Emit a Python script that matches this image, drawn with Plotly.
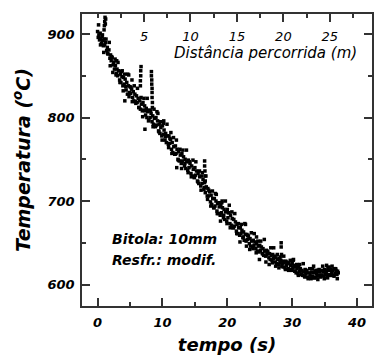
import plotly.graph_objects as go

# ---- data ----
TIME_S = [
    0.0, 0.1, 0.2, 0.3, 0.4, 0.5, 0.6, 0.7, 0.8, 0.9,
    1.0, 1.05, 1.1, 1.15, 1.2, 1.25,
    1.0, 1.1, 1.25, 1.4, 1.5, 1.6, 1.75, 1.9,
    2.0, 2.1, 2.25, 2.4, 2.5, 2.6, 2.75, 2.9, 2.95,
    3.0, 3.1, 3.25, 3.4, 3.5, 3.6, 3.75, 3.9, 3.8,
    4.0, 4.1, 4.25, 4.4, 4.5, 4.6, 4.75, 4.9, 4.2, 4.8,
    5.0, 5.1, 5.25, 5.4, 5.5, 5.6, 5.75, 5.9, 5.3,
    6.0, 6.1, 6.25, 6.4, 6.5, 6.6, 6.75, 6.9,
    6.6, 6.6, 6.65, 6.65, 6.7,
    7.0, 7.1, 7.25, 7.4, 7.5, 7.6, 7.75, 7.9, 7.3,
    8.3, 8.3, 8.35, 8.35, 8.4, 8.4, 8.4, 8.45, 8.45,
    8.0, 8.1, 8.25, 8.4, 8.5, 8.6, 8.75, 8.9,
    9.0, 9.1, 9.25, 9.4, 9.5, 9.6, 9.75, 9.9, 9.3,
    10.0, 10.1, 10.25, 10.4, 10.5, 10.6, 10.75, 10.9, 10.2,
    11.0, 11.1, 11.25, 11.4, 11.5, 11.6, 11.75, 11.9, 11.3,
    12.0, 12.1, 12.25, 12.4, 12.5, 12.6, 12.75, 12.9, 12.2,
    13.0, 13.1, 13.25, 13.4, 13.5, 13.6, 13.75, 13.9,
    14.0, 14.1, 14.25, 14.4, 14.5, 14.6, 14.75, 14.9,
    15.0, 15.1, 15.25, 15.4, 15.5, 15.6, 15.75, 15.9,
    16.5, 16.5, 16.55, 16.55, 16.6,
    16.0, 16.1, 16.25, 16.4, 16.5, 16.6, 16.75, 16.9,
    17.0, 17.1, 17.25, 17.4, 17.5, 17.6, 17.75, 17.9,
    18.0, 18.1, 18.25, 18.4, 18.5, 18.6, 18.75, 18.9, 18.3,
    19.0, 19.1, 19.25, 19.4, 19.5, 19.6, 19.75, 19.9, 19.2,
    20.0, 20.1, 20.25, 20.4, 20.5, 20.6, 20.75, 20.9, 20.3,
    21.0, 21.1, 21.25, 21.4, 21.5, 21.6, 21.75, 21.9,
    22.0, 22.1, 22.25, 22.4, 22.5, 22.6, 22.75, 22.9, 22.8,
    23.0, 23.1, 23.25, 23.4, 23.5, 23.6, 23.75, 23.9,
    24.0, 24.1, 24.25, 24.4, 24.5, 24.6, 24.75, 24.9, 24.5,
    25.0, 25.1, 25.25, 25.4, 25.5, 25.6, 25.75, 25.9,
    26.0, 26.1, 26.25, 26.4, 26.5, 26.6, 26.75, 26.9,
    27.0, 27.1, 27.25, 27.4, 27.5, 27.6, 27.75, 27.9,
    28.3, 28.3, 28.35,
    28.0, 28.1, 28.25, 28.4, 28.5, 28.6, 28.75, 28.9,
    29.0, 29.1, 29.25, 29.4, 29.5, 29.6, 29.75, 29.9,
    30.0, 30.1, 30.25, 30.4, 30.5, 30.6, 30.75, 30.9, 30.2,
    31.0, 31.1, 31.25, 31.4, 31.5, 31.6, 31.75, 31.9,
    32.0, 32.1, 32.25, 32.4, 32.5, 32.6, 32.75, 32.9,
    33.0, 33.1, 33.25, 33.4, 33.5, 33.6, 33.75, 33.9, 33.3,
    34.0, 34.1, 34.25, 34.4, 34.5, 34.6, 34.75, 34.9,
    35.0, 35.1, 35.25, 35.4, 35.5, 35.6, 35.75, 35.9, 35.3,
    36.0, 36.1, 36.25, 36.4, 36.5, 36.6, 36.75, 36.9, 37.0, 37.1,
]
TEMP_C = [
    903, 896, 899, 893, 901, 895, 889, 897, 892, 886,
    905, 910, 915, 920, 912, 918,
    894, 887, 890, 880, 884, 876, 881, 871,
    875, 868, 872, 863, 866, 858, 862, 853, 868,
    858, 850, 856, 845, 852, 842, 849, 838, 856,
    848, 840, 846, 833, 842, 828, 838, 830, 820, 851,
    837, 829, 834, 824, 831, 820, 828, 817, 845,
    826, 818, 823, 812, 820, 810, 816, 808,
    838, 844, 850, 856, 861,
    818, 809, 814, 803, 811, 800, 807, 797, 786,
    855, 850, 845, 840, 835, 830, 824, 818, 812,
    809, 800, 805, 795, 802, 792, 799, 789,
    800, 791, 796, 784, 792, 781, 788, 778, 805,
    790, 780, 785, 773, 781, 770, 778, 768, 796,
    778, 769, 774, 762, 770, 758, 765, 756, 782,
    766, 757, 762, 750, 759, 748, 755, 745, 740,
    757, 748, 753, 742, 750, 739, 747, 737,
    749, 740, 745, 733, 742, 730, 738, 728,
    740, 731, 736, 724, 733, 721, 729, 718,
    748, 742, 736, 730, 724,
    730, 721, 726, 714, 722, 710, 717, 706,
    715, 706, 711, 699, 707, 696, 703, 692,
    703, 694, 700, 688, 697, 685, 693, 683, 708,
    695, 686, 692, 680, 690, 678, 687, 676, 700,
    690, 680, 686, 673, 683, 671, 679, 668, 695,
    678, 670, 675, 664, 672, 661, 668, 659,
    668, 661, 665, 656, 663, 653, 660, 652, 672,
    660, 654, 658, 649, 655, 646, 652, 645,
    653, 647, 651, 643, 649, 640, 646, 639, 657,
    647, 641, 645, 637, 643, 635, 640, 634,
    641, 636, 639, 632, 637, 630, 635, 629,
    636, 631, 634, 627, 632, 625, 630, 624,
    645, 650, 636,
    631, 626, 629, 622, 628, 621, 626, 620,
    628, 623, 626, 619, 625, 618, 623, 617,
    625, 620, 623, 616, 621, 614, 619, 613, 630,
    621, 616, 619, 612, 617, 611, 615, 610,
    618, 613, 616, 609, 614, 608, 612, 607,
    615, 610, 614, 608, 616, 609, 613, 610, 622,
    617, 611, 615, 609, 617, 611, 615, 610,
    618, 612, 616, 610, 619, 612, 617, 611, 623,
    618, 613, 617, 611, 619, 613, 617, 612, 616, 614,
]

# additional scattered readings (outer edges of the band)
TIME_S_EDGE = [
    0.15, 0.45, 0.75, 0.95, 1.3, 1.55, 1.8, 1.95, 2.15, 2.35, 2.7, 2.85,
    3.15, 3.45, 3.65, 3.95, 4.15, 4.35, 4.65, 4.85, 5.15, 5.35, 5.65, 5.85,
    6.15, 6.35, 6.7, 6.95, 7.15, 7.35, 7.65, 7.85, 8.15, 8.55, 8.7, 8.95,
    9.15, 9.45, 9.7, 9.95, 10.15, 10.45, 10.7, 10.95, 11.15, 11.45, 11.7, 11.95,
    12.15, 12.45, 12.7, 12.95, 13.15, 13.45, 13.7, 13.95, 14.15, 14.45, 14.7, 14.95,
    15.15, 15.45, 15.7, 15.95, 16.15, 16.45, 16.7, 16.95, 17.15, 17.45, 17.7, 17.95,
    18.15, 18.45, 18.7, 18.95, 19.15, 19.45, 19.7, 19.95, 20.15, 20.45, 20.7, 20.95,
    21.15, 21.45, 21.7, 21.95, 22.15, 22.45, 22.7, 22.95, 23.15, 23.45, 23.7, 23.95,
    24.15, 24.45, 24.7, 24.95, 25.15, 25.45, 25.7, 25.95, 26.15, 26.45, 26.7, 26.95,
    27.15, 27.45, 27.7, 27.95, 28.15, 28.45, 28.7, 28.95, 29.15, 29.45, 29.7, 29.95,
    30.15, 30.45, 30.7, 30.95, 31.15, 31.45, 31.7, 31.95, 32.15, 32.45, 32.7, 32.95,
    33.15, 33.45, 33.7, 33.95, 34.15, 34.45, 34.7, 34.95, 35.15, 35.45, 35.7, 35.95,
    36.15, 36.45, 36.7, 36.95,
]
TEMP_C_EDGE = [
    911, 887, 899, 878, 894, 877, 890, 862, 873, 854, 870, 851,
    866, 842, 855, 832, 852, 837, 852, 825, 836, 819, 838, 819,
    835, 812, 824, 801, 823, 808, 823, 796, 808, 789, 810, 790,
    807, 783, 795, 773, 793, 777, 792, 764, 775, 757, 776, 756,
    773, 749, 762, 739, 761, 745, 761, 734, 747, 729, 749, 729,
    747, 723, 736, 713, 734, 716, 730, 702, 713, 694, 712, 692,
    709, 685, 698, 676, 698, 683, 700, 673, 686, 668, 687, 668,
    685, 661, 673, 651, 672, 657, 673, 646, 659, 642, 662, 643,
    661, 638, 652, 630, 652, 637, 654, 627, 640, 624, 644, 626,
    644, 622, 636, 620, 633, 625, 634, 618, 627, 617, 629, 618,
    629, 616, 624, 611, 624, 616, 625, 609, 617, 607, 619, 608,
    619, 608, 617, 606, 618, 611, 622, 607, 616, 608, 621, 611,
    622, 610, 619, 607,
]

TIME_TICKS = [0, 10, 20, 30, 40]
TEMP_TICKS = [600, 700, 800, 900]
DIST_TICKS = [5, 10, 15, 20, 25]
M_PER_S = 25 / 35.8  # distance covered per second (top axis scale)

T_RANGE = [-2.4, 42.3]
Y_RANGE = [574.3, 924]

FONT = "DejaVu Sans"
LINE = "#333333"

fig = go.Figure()
fig.add_trace(go.Scatter(
    x=TIME_S + TIME_S_EDGE, y=TEMP_C + TEMP_C_EDGE, mode="markers",
    marker=dict(symbol="square", size=3.5, color="black", line=dict(width=0)),
    showlegend=False, hoverinfo="skip",
))
fig.add_trace(go.Scatter(
    x=DIST_TICKS, y=[TEMP_TICKS[0]] * len(DIST_TICKS), xaxis="x2", yaxis="y",
    mode="markers", marker=dict(size=1, opacity=0), showlegend=False, hoverinfo="skip",
))

fig.update_layout(
    width=374, height=356,
    margin=dict(l=82, r=2, t=14, b=50),
    paper_bgcolor="white", plot_bgcolor="white",
    font=dict(family=FONT, color="black"),
    xaxis=dict(
        range=T_RANGE, tickvals=TIME_TICKS, ticks="inside", ticklen=8, tickwidth=1.5,
        tickcolor=LINE, showline=True, linewidth=1.5, linecolor=LINE, mirror=True,
        showgrid=False, zeroline=False, automargin=False,
        minor=dict(dtick=5, tick0=0, ticks="inside", ticklen=4, tickwidth=1.5, tickcolor=LINE, showgrid=False),
        tickfont=dict(family=FONT, size=13, weight="bold", style="italic"),
        ticklabelstandoff=4,
        title=dict(text="tempo (s)", font=dict(family=FONT, size=18, weight="bold", style="italic"), standoff=9),
    ),
    xaxis2=dict(
        overlaying="x", side="top", anchor="y",
        range=[T_RANGE[0] * M_PER_S, T_RANGE[1] * M_PER_S],
        tickvals=DIST_TICKS,
        ticks="inside", ticklen=8, tickwidth=1.5, tickcolor=LINE,
        showline=True, linewidth=1.5, linecolor=LINE, showgrid=False, zeroline=False,
        automargin=False,
        minor=dict(dtick=2.5, tick0=0, ticks="inside", ticklen=4, tickwidth=1.5, tickcolor=LINE, showgrid=False),
        ticklabelstandoff=-34,
        tickfont=dict(family=FONT, size=13, style="italic"),
    ),
    yaxis=dict(
        range=Y_RANGE, tickvals=TEMP_TICKS, ticks="inside", ticklen=8, tickwidth=1.5,
        tickcolor=LINE, showline=True, linewidth=1.5, linecolor=LINE, mirror="ticks",
        showgrid=False, zeroline=False, automargin=False,
        minor=dict(dtick=50, tick0=600, ticks="inside", ticklen=4, tickwidth=1.5, tickcolor=LINE, showgrid=False),
        tickfont=dict(family=FONT, size=13, weight="bold", style="italic"),
        ticklabelstandoff=3,
        title=dict(text="Temperatura (<sup>o</sup>C)", font=dict(family=FONT, size=19, weight="bold", style="italic"), standoff=12),
    ),
    annotations=[
        dict(text="Distância percorrida (m)", xref="paper", yref="paper", x=0.634, y=0.866,
             xanchor="center", yanchor="middle", showarrow=False,
             font=dict(family=FONT, size=15, style="italic")),
        dict(text="Bitola: 10mm", xref="paper", yref="paper", x=0.095, y=0.228,
             xanchor="left", yanchor="middle", showarrow=False,
             font=dict(family=FONT, size=14, weight="bold", style="italic")),
        dict(text="Resfr.: modif.", xref="paper", yref="paper", x=0.095, y=0.159,
             xanchor="left", yanchor="middle", showarrow=False,
             font=dict(family=FONT, size=14, weight="bold", style="italic")),
    ],
)

fig.write_html("out.html", config={"displayModeBar": False},
               post_script="document.body.style.margin='0';")
